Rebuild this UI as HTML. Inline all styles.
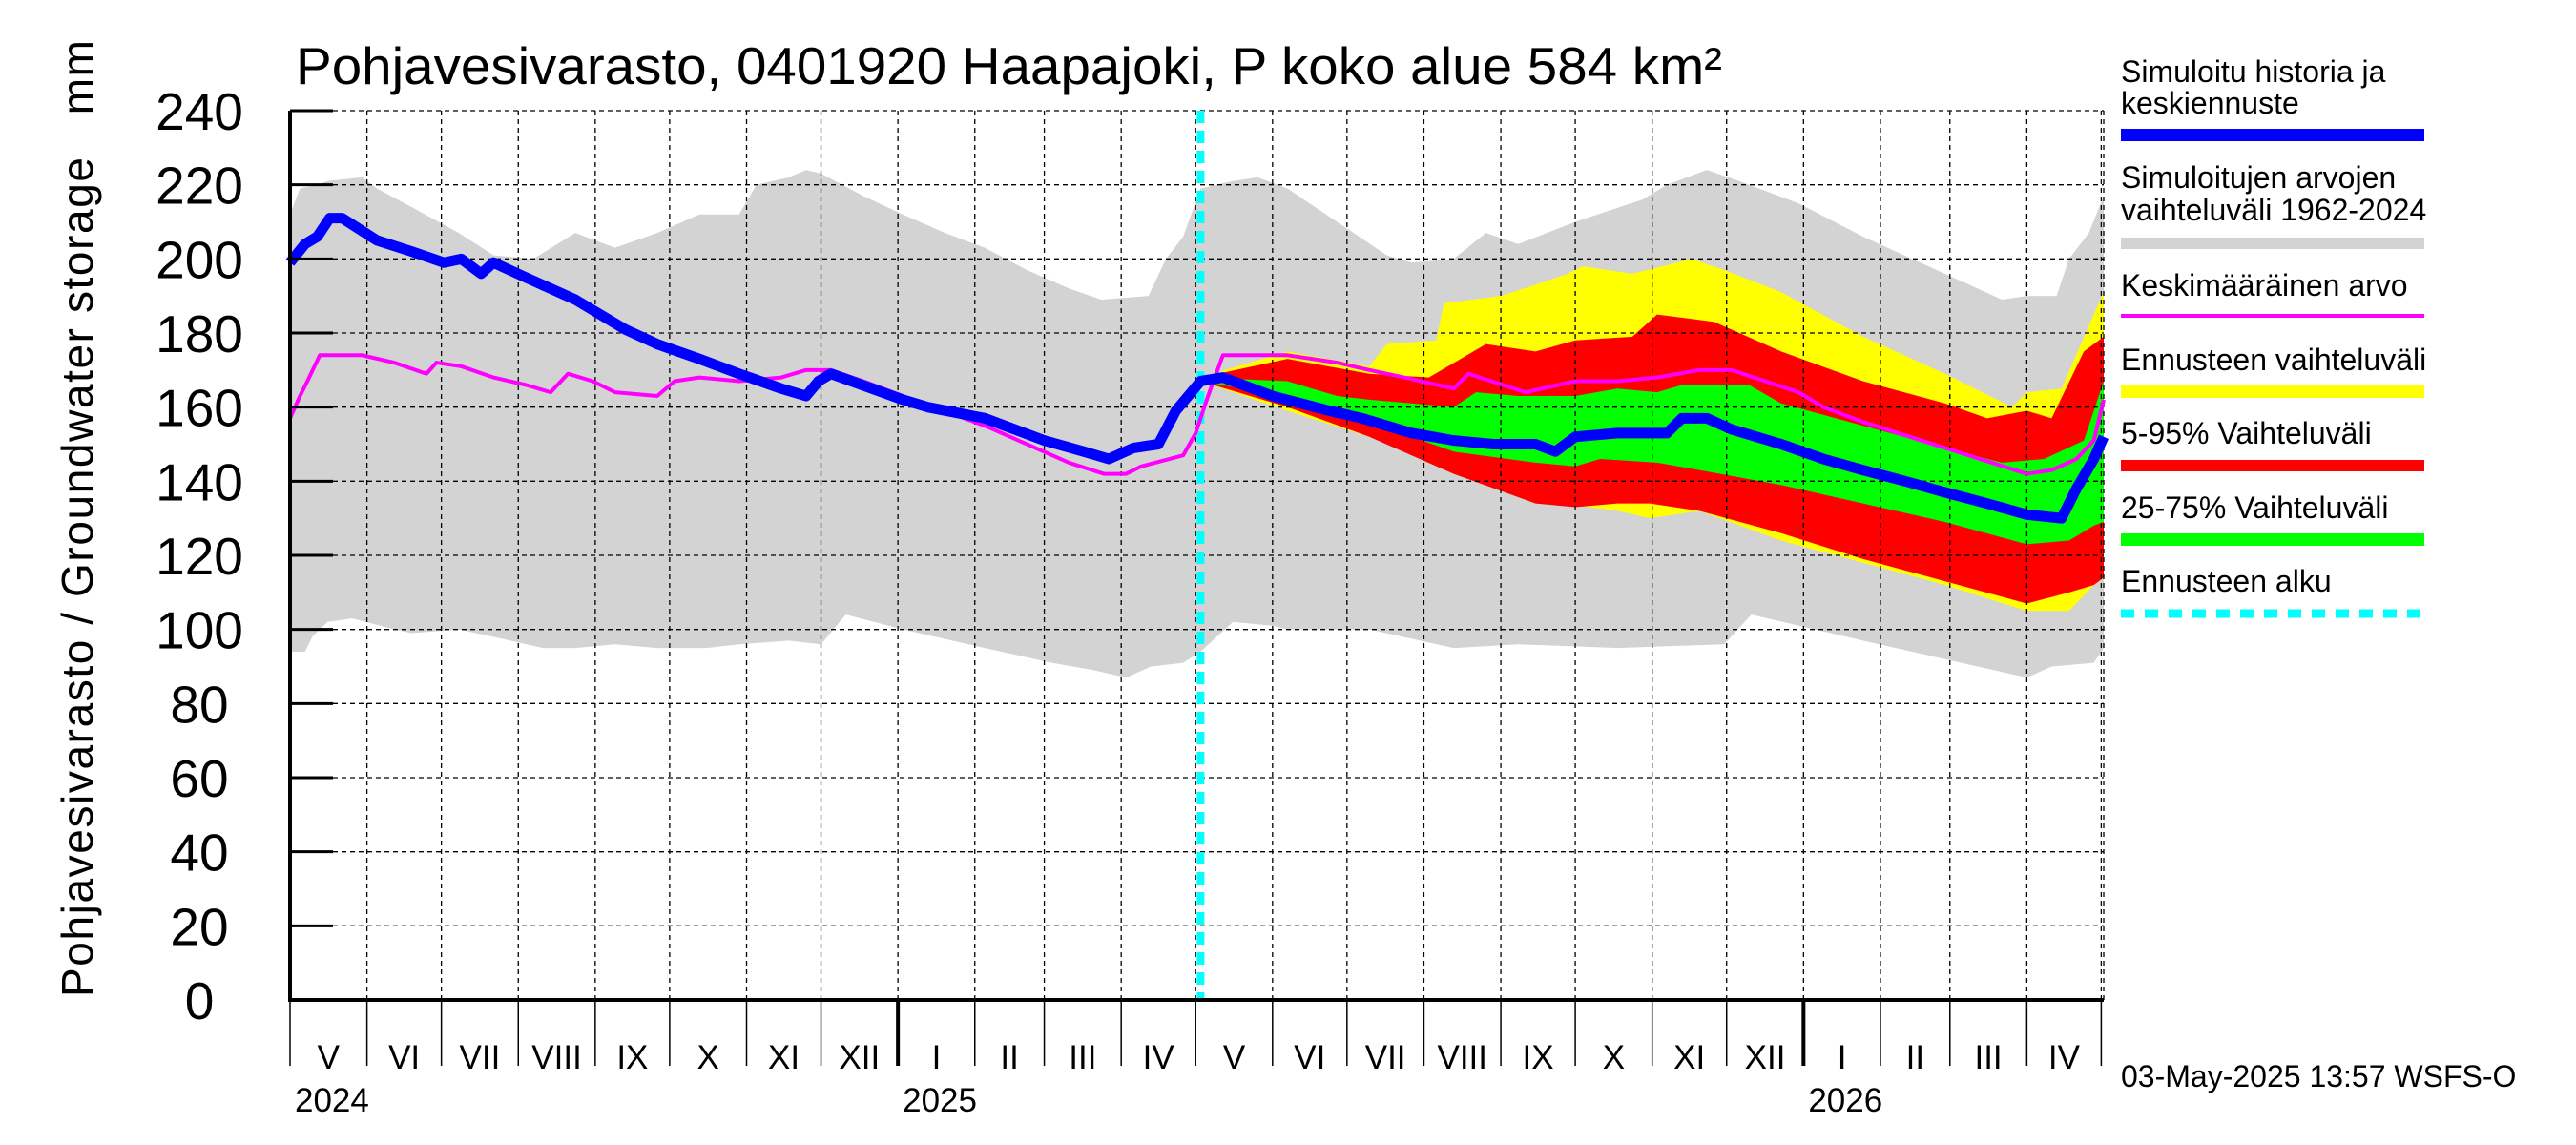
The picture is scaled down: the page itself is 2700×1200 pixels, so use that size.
<!DOCTYPE html>
<html><head><meta charset="utf-8"><style>
html,body{margin:0;padding:0;background:#fff;}
svg{display:block;font-family:"Liberation Sans",Arial,sans-serif;}
</style></head><body>
<svg id="chart" width="2700" height="1200" viewBox="0 0 2700 1200" xmlns="http://www.w3.org/2000/svg">
<rect x="0" y="0" width="2700" height="1200" fill="#fff"/>
<text x="310" y="88" font-size="55" textLength="1495" lengthAdjust="spacingAndGlyphs">Pohjavesivarasto, 0401920 Haapajoki, P koko alue 584 km²</text>
<text transform="translate(97,1045) rotate(-90)" font-size="46" textLength="1003" lengthAdjust="spacing" xml:space="preserve" style="white-space:pre">Pohjavesivarasto / Groundwater storage   mm</text>
<g id="bands"></g><g id="grid"></g><g id="lines"></g><g id="axes"></g>
<g font-size="32">
 <text x="2223" y="86">Simuloitu historia ja</text>
 <text x="2223" y="119">keskiennuste</text>
 <rect x="2223" y="135" width="318" height="13" fill="#0000ff"/>
 <text x="2223" y="197">Simuloitujen arvojen</text>
 <text x="2223" y="231">vaihteluväli 1962-2024</text>
 <rect x="2223" y="249" width="318" height="12" fill="#d3d3d3"/>
 <text x="2223" y="310">Keskimääräinen arvo</text>
 <rect x="2223" y="329" width="318" height="4" fill="#ff00ff"/>
 <text x="2223" y="388">Ennusteen vaihteluväli</text>
 <rect x="2223" y="404" width="318" height="13" fill="#ffff00"/>
 <text x="2223" y="465">5-95% Vaihteluväli</text>
 <rect x="2223" y="482" width="318" height="12" fill="#ff0000"/>
 <text x="2223" y="543">25-75% Vaihteluväli</text>
 <rect x="2223" y="559" width="318" height="13" fill="#00ff00"/>
 <text x="2223" y="620">Ennusteen alku</text>
 <line x1="2223" y1="643" x2="2541" y2="643" stroke="#00ffff" stroke-width="9" stroke-dasharray="14,11"/>
</g>
<text x="2223" y="1139" font-size="32">03-May-2025 13:57 WSFS-O</text>
</svg>
<script>
// ---- data (day offset from 2024-05-01, value mm) ----
const yTicks=[0,20,40,60,80,100,120,140,160,180,200,220,240];
const monthLabels=["V","VI","VII","VIII","IX","X","XI","XII","I","II","III","IV","V","VI","VII","VIII","IX","X","XI","XII","I","II","III","IV"];
const yearLabels=["2024","2025","2026"];
const forecastStartDay=367;
const grayUpDays=[0,4,11,15,29,35,49,68,82,98,115,131,148,165,181,188,201,208,214,231,247,264,280,297,314,327,346,353,360,367,380,390,402,422,442,452,469,482,495,518,545,555,571,584,608,634,667,690,700,712,717,725,731];
const grayUp=[212,219,220,221,222,219,214,207,201,200,207,203,207,212,212,220,222,224,223,217,212,207,203,197,192,189,190,200,206,219,221,222,219,210,201,199,200,207,204,210,216,220,224,221,215,206,196,189,190,190,200,207,217];
const grayLoDays=[0,6,9,15,25,42,49,68,82,102,115,131,148,168,181,201,214,224,247,280,307,324,337,347,360,367,380,396,402,435,469,495,535,578,589,634,667,700,710,727,731];
const grayLo=[94,94,98,102,103,100,99,100,98,95,95,96,95,95,96,97,96,104,100,95,91,89,87,90,91,94,102,101,100,100,95,96,95,96,104,97,92,87,90,91,95];
const ylwUpDays=[367,402,435,442,462,465,488,502,515,521,541,565,578,601,634,667,694,700,714,727,731];
const ylwUp=[168,175,171,177,178,188,190,193,196,198,196,200,197,191,179,169,160,164,165,185,191];
const ylwLoDays=[367,402,435,469,502,535,548,568,601,634,667,700,717,727,731];
const ylwLo=[167,159,152,143,135,132,130,132,124,118,112,105,105,112,114];
const redUpDays=[367,402,435,459,482,502,518,541,551,574,601,634,667,684,700,710,723,731];
const redUp=[168,173,169,168,177,175,178,179,185,183,175,167,161,157,159,157,175,179];
const redLoDays=[367,402,435,469,502,518,535,548,568,601,634,667,700,717,727,731];
const redLo=[167,160,152,142,134,133,134,134,132,126,119,113,107,110,112,114];
const grnUpDays=[367,402,422,435,469,478,495,518,535,551,561,574,588,601,634,667,690,707,723,731];
const grnUp=[168,167,163,162,160,164,163,163,165,164,166,166,166,161,155,149,145,146,151,167];
const grnLoDays=[367,402,435,469,502,518,528,551,568,601,634,667,700,717,727,731];
const grnLo=[167,163,156,148,145,144,146,145,143,139,134,129,123,124,128,129];
const blueDays=[0,6,11,16,21,35,49,62,69,77,82,95,115,135,148,165,181,198,208,213,218,247,257,280,304,320,330,340,350,357,367,376,396,419,432,452,469,485,502,510,518,535,555,561,571,581,601,618,634,651,667,684,700,714,720,727,731];
const blueVal=[199,204,206,211,211,205,202,199,200,196,199,195,189,181,177,173,169,165,163,167,169,162,160,157,151,148,146,149,150,159,167,168,163,159,157,153,151,150,150,148,152,153,153,157,157,154,150,146,143,140,137,134,131,130,138,146,152];
const meanDays=[0,4,7,12,19,29,42,55,59,69,82,95,105,112,122,131,148,155,165,181,198,208,218,231,247,280,314,328,337,343,360,365,370,376,402,422,435,449,469,475,498,518,535,551,568,581,608,618,634,667,700,710,720,727,731];
const meanVal=[157,163,167,174,174,174,172,169,172,171,168,166,164,169,167,164,163,167,168,167,168,170,170,167,163,155,145,142,142,144,147,153,163,174,174,172,170,168,165,169,164,167,167,168,170,170,164,160,156,149,142,143,146,151,162];

// ---- axes functions ----
const X0=304,X1=2205,Y0=1048,Y1=116,NDAYS=731;
const xs=d=>X0+(X1-X0)*d/NDAYS;
const ys=v=>Y0-(Y0-Y1)*v/240;
const NS="http://www.w3.org/2000/svg";
function mk(tag,parent,attrs){const e=document.createElementNS(NS,tag);for(const k in attrs)e.setAttribute(k,attrs[k]);parent.appendChild(e);return e;}
const bands=document.getElementById('bands'),grid=document.getElementById('grid'),lines=document.getElementById('lines'),axes=document.getElementById('axes');
function band(ud,uv,ld,lv,color,name){
  const pts=ud.map((d,i)=>xs(d)+","+ys(uv[i]));
  for(let i=ld.length-1;i>=0;i--)pts.push(xs(ld[i])+","+ys(lv[i]));
  const p=mk('polygon',bands,{points:pts.join(" "),fill:color});
  
  
}
band(grayUpDays,grayUp,grayLoDays,grayLo,'#d3d3d3','simulated-range-band');
band(ylwUpDays,ylwUp,ylwLoDays,ylwLo,'#ffff00','forecast-range-band');
band(redUpDays,redUp,redLoDays,redLo,'#ff0000','band-5-95');
band(grnUpDays,grnUp,grnLoDays,grnLo,'#00ff00','band-25-75');

const start=new Date(Date.UTC(2024,4,1));
const bounds=[];
for(let m=0;m<=24;m++){const d=new Date(Date.UTC(2024,4+m,1));bounds.push((d-start)/86400000);}
for(let m=1;m<bounds.length;m++){
  const gx=xs(bounds[m]);
  const g=mk('line',grid,{x1:gx,y1:Y1,x2:gx,y2:Y0,stroke:'#000','stroke-width':1.3,'stroke-dasharray':'5,4'});
  
  
  const isYear=(m===8||m===20);
  const t=mk('line',axes,{x1:gx,y1:Y0,x2:gx,y2:1117,stroke:'#000','stroke-width':isYear?4:1.5});
  
  
}
mk('line',axes,{x1:X0,y1:Y0,x2:X0,y2:1117,stroke:'#000','stroke-width':1.5});
for(let m=0;m<24;m++){
  const cx=(xs(bounds[m])+xs(bounds[m+1]))/2;
  const t=mk('text',axes,{x:cx,y:1120,'font-size':35,'text-anchor':'middle'});
  t.textContent=monthLabels[m];
  
  
}
[0,8,20].forEach((m,i)=>{
  const t=mk('text',axes,{x:xs(bounds[m])+5,y:1165,'font-size':35});
  t.textContent=yearLabels[i];
  
  
});
yTicks.forEach(v=>{
  const y=ys(v);
  if(v>0){const g=mk('line',grid,{x1:X0,y1:y,x2:X1,y2:y,stroke:'#000','stroke-width':1.3,'stroke-dasharray':'5,4'});
  
  }
  const tk=mk('line',axes,{x1:X0,y1:y,x2:X0+45,y2:y,stroke:'#000','stroke-width':3});
  
  
  const t=mk('text',axes,{x:209,y:y+20,'font-size':55,'text-anchor':'middle'});
  t.textContent=v;
  
  
});
mk('line',grid,{x1:X1,y1:Y1,x2:X1,y2:Y0,stroke:'#000','stroke-width':1.3,'stroke-dasharray':'5,4'});
mk('line',axes,{x1:X0,y1:Y1,x2:X0,y2:Y0+2,stroke:'#000','stroke-width':4});
mk('line',axes,{x1:X0-2,y1:Y0,x2:X1,y2:Y0,stroke:'#000','stroke-width':4});

const fs=mk('line',lines,{x1:xs(forecastStartDay),y1:Y1,x2:xs(forecastStartDay),y2:Y0,stroke:'#00ffff','stroke-width':8,'stroke-dasharray':'13,8'});


const ml=mk('polyline',lines,{points:meanDays.map((d,i)=>xs(d)+","+ys(meanVal[i])).join(" "),fill:'none',stroke:'#ff00ff','stroke-width':4,'stroke-linejoin':'round'});


const bl=mk('polyline',lines,{points:blueDays.map((d,i)=>xs(d)+","+ys(blueVal[i])).join(" "),fill:'none',stroke:'#0000ff','stroke-width':11,'stroke-linejoin':'round'});


</script>
</body></html>
